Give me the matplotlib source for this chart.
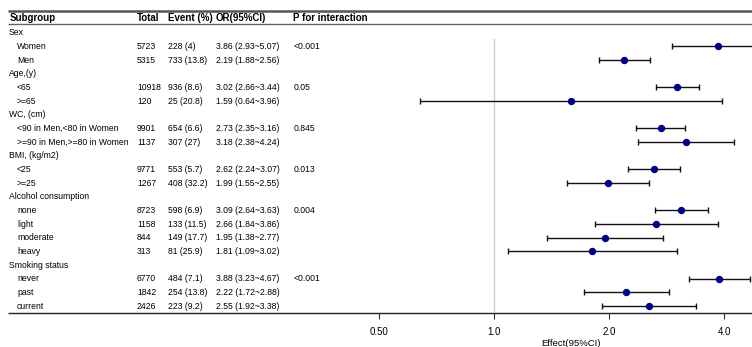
import numpy as np
import matplotlib
matplotlib.use("Agg")
import matplotlib.pyplot as plt

# — DATA —
groups = [
    ("Sex", ["Women", "Men"], "<0.001"),
    ("Age,(y)", ["<65", ">=65"], "0.05"),
    ("WC, (cm)", ["<90 in Men,<80 in Women", ">=90 in Men,>=80 in Women"], "0.845"),
    ("BMI, (kg/m2)", ["<25", ">=25"], "0.013"),
    ("Alcohol consumption", ["none", "light", "moderate", "heavy"], "0.004"),
    ("Smoking status", ["never", "past", "current"], "<0.001"),
]
totals = [5723, 5315, 10918, 120, 9901, 1137, 9771, 1267,
          8723, 1158, 844, 313, 6770, 1842, 2426]
events = ["228 (4)", "733 (13.8)", "936 (8.6)", "25 (20.8)", "654 (6.6)", "307 (27)",
          "553 (5.7)", "408 (32.2)", "598 (6.9)", "133 (11.5)", "149 (17.7)", "81 (25.9)",
          "484 (7.1)", "254 (13.8)", "223 (9.2)"]
or_est = [3.86, 2.19, 3.02, 1.59, 2.73, 3.18, 2.62, 1.99,
          3.09, 2.66, 1.95, 1.81, 3.88, 2.22, 2.55]
or_lo = [2.93, 1.88, 2.66, 0.64, 2.35, 2.38, 2.24, 1.55,
         2.64, 1.84, 1.38, 1.09, 3.23, 1.72, 1.92]
or_hi = [5.07, 2.56, 3.44, 3.96, 3.16, 4.24, 3.07, 2.55,
         3.63, 3.86, 2.77, 3.02, 4.67, 2.88, 3.38]
xticks = [0.5, 1.0, 2.0, 4.0]
xtick_labels = ["0.50", "1.0", "2.0", "4.0"]

W, H = 752, 347
plt.rcParams['font.family'] = ['Liberation Sans', 'DejaVu Sans']
fig = plt.figure(figsize=(W / 100, H / 100), dpi=100)

# rows area in pixels: top 26 .. bottom 313
top_px, bot_px = 26, 313
n_rows = sum(1 + len(s) for _, s, _ in groups)
pos = [0, 1 - bot_px / H, 1, (bot_px - top_px) / H]

ax = fig.add_axes(pos)
ax.set_xlim(0, W)
ax.set_ylim(n_rows - 0.5, -0.5)
ax.axis("off")

fs = 6.2
col_total, col_event, col_or, col_p = 137, 168, 216, 294

# header
hdr_y = -1.1
for x, t in [(10, "Subgroup"), (col_total, "Total"), (col_event, "Event (%)"),
             (col_or, "OR(95%CI)"), (col_p - 1, "P for interaction")]:
    ax.text(x, hdr_y, t, fontsize=7.0, fontweight="bold", va="center", ha="left", clip_on=False)
ax.plot([8, W], [-1.62, -1.62], color="#555555", lw=1.8, clip_on=False, solid_capstyle="butt")
ax.plot([8, W], [-0.62, -0.62], color="#666666", lw=1.0, clip_on=False, solid_capstyle="butt")
ax.plot([8, W], [n_rows - 0.5, n_rows - 0.5], color="#222222", lw=1.0, clip_on=False,
        solid_capstyle="butt")

row = 0
k = 0
ys = []
for name, subs, p in groups:
    ax.text(9, row, name, fontsize=fs, va="center")
    row += 1
    for j, s in enumerate(subs):
        ax.text(17, row, s, fontsize=fs, va="center")
        ax.text(col_total, row, str(totals[k]), fontsize=fs, va="center")
        ax.text(col_event, row, events[k], fontsize=fs, va="center")
        ax.text(col_or, row, f"{or_est[k]:.2f} ({or_lo[k]:.2f}~{or_hi[k]:.2f})",
                fontsize=fs, va="center")
        if j == 0:
            ax.text(col_p, row, p, fontsize=fs, va="center")
        ys.append(row)
        row += 1
        k += 1

# forest axes: 1.0 at x=494 px, 115 px per doubling
px_one, px_dbl, left_px = 494, 115, 300
xmin = 2 ** ((left_px - px_one) / px_dbl)
xmax = 2 ** ((W - px_one) / px_dbl)
axf = fig.add_axes([left_px / W, pos[1], 1 - left_px / W, pos[3]])
axf.set_xscale("log")
axf.set_xlim(xmin, xmax)
axf.set_ylim(n_rows - 0.5, -0.5)
axf.patch.set_alpha(0)
for sp in axf.spines.values():
    sp.set_visible(False)
axf.set_yticks([])
axf.minorticks_off()
axf.set_xticks(xticks)
axf.set_xticklabels(xtick_labels)
axf.tick_params(axis="x", length=4, width=0.8, color="#333333", labelsize=7, pad=6)

axf.plot([1, 1], [0.45, n_rows - 0.5], color="#cccccc", lw=1.0, zorder=1)
ys = np.array(ys)
est = np.array(or_est)
err = [est - np.array(or_lo), np.array(or_hi) - est]
axf.errorbar(est, ys, xerr=err, fmt="o", color="#00008b", ms=4.3,
             ecolor="#111111", elinewidth=1.0, capsize=2.2, capthick=1.0, zorder=3)
fig.text(571 / W, 1 - 343 / H, "Effect(95%CI)", fontsize=6.8, ha="center", va="center")

fig.savefig("out.png", dpi=100)
